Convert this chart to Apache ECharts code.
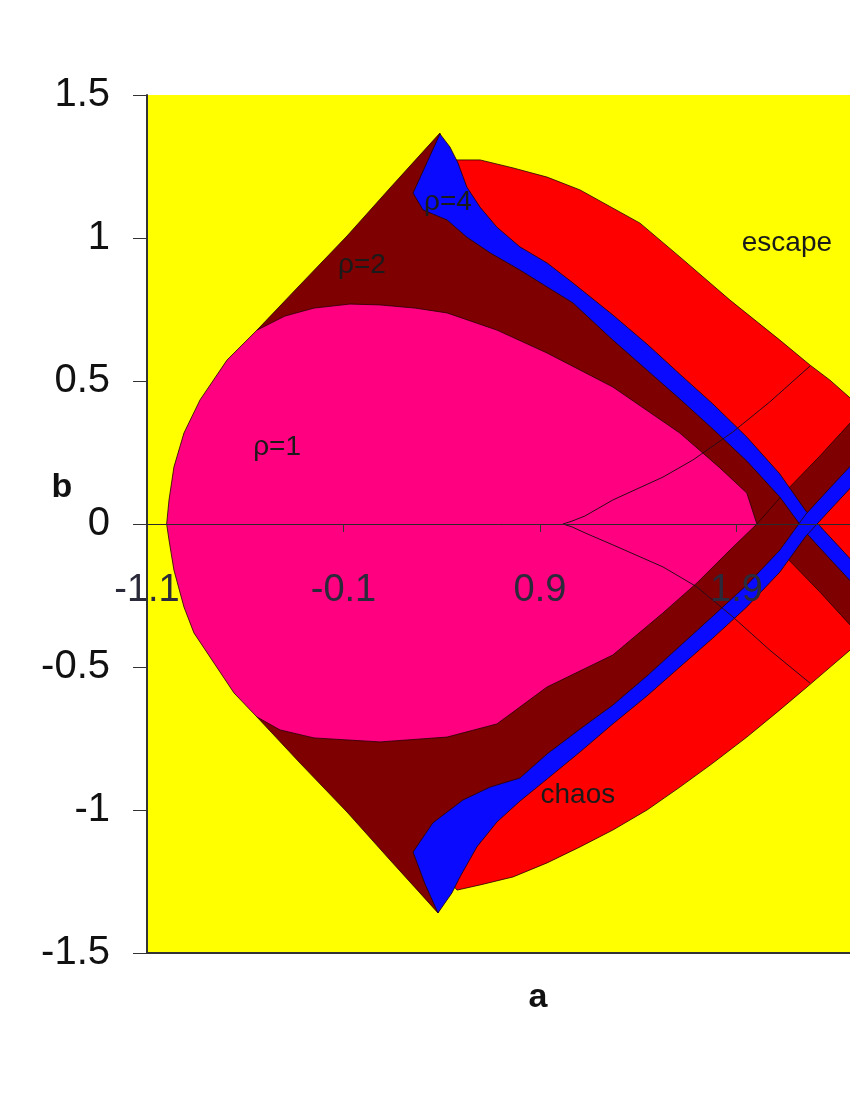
<!DOCTYPE html>
<html><head><meta charset="utf-8">
<script src="https://cdn.jsdelivr.net/npm/echarts@6/dist/echarts.min.js"></script>
<style>html,body{margin:0;padding:0;background:#fff}#c{width:850px;height:1100px}</style>
</head><body><div id="c"></div>
<script>
// Axis ticks and extents
const xTicks = [-1.1, -0.1, 0.9, 1.9];
const yTicks = [-1.5, -1, -0.5, 0, 0.5, 1, 1.5];
const X_MIN = -1.1, X_MAX = 2.478, Y_MIN = -1.5, Y_MAX = 1.5;

// Regions in (a, b) parameter space
const chaosRegion = [
  [0.467,1.273],[0.595,1.273],[0.763,1.245],[0.936,1.213],[1.104,1.168],[1.409,1.052],[1.612,0.934],
  [1.867,0.783],[2.121,0.643],[2.274,0.556],[2.376,0.503],[2.478,0.441],[2.579,0.364],
  [2.579,-0.371],[2.478,-0.441],[2.361,-0.510],[2.259,-0.570],[2.121,-0.650],[1.953,-0.745],
  [1.780,-0.836],[1.612,-0.920],[1.445,-1.000],[1.271,-1.070],[1.104,-1.129],[0.936,-1.185],
  [0.763,-1.234],[0.595,-1.262],[0.478,-1.280],[0.391,-1.210],[0.696,-0.615],[1.307,0],
  [0.696,0.615],[0.391,1.217]
];
const period2Upper = [
  [-0.321,0],[-0.540,0.678],[-0.321,0.836],[-0.082,1.007],[0.137,1.175],[0.289,1.290],[0.391,1.367],
  [0.432,1.255],[0.544,1.080],[0.681,0.986],[0.936,0.864],[1.271,0.692],[1.612,0.483],[1.953,0.262],
  [2.121,0.133],[2.254,0.007],[2.376,-0.084],[2.579,-0.238],[2.579,-0.423],[2.478,-0.353],
  [2.325,-0.238],[2.157,-0.119],[2.004,0],[1.714,0]
];
const period2Lower = [
  [-0.321,0],[-0.540,-0.675],[-0.321,-0.836],[-0.082,-1.007],[0.137,-1.175],[0.289,-1.290],[0.381,-1.360],
  [0.427,-1.262],[0.518,-1.122],[0.681,-0.983],[0.936,-0.846],[1.271,-0.664],[1.612,-0.465],[1.953,-0.255],
  [2.121,-0.133],[2.254,-0.007],[2.376,0.084],[2.579,0.234],[2.579,0.434],[2.478,0.353],
  [2.325,0.238],[2.157,0.119],[2.004,0],[1.714,0]
];
const period4Upper = [
  [0.391,1.364],[0.442,1.318],[0.483,1.262],[0.528,1.178],[0.595,1.108],[0.681,1.038],[0.798,0.969],
  [0.936,0.913],[1.068,0.843],[1.271,0.731],[1.445,0.629],[1.612,0.524],[1.780,0.420],[1.953,0.304],
  [2.121,0.175],[2.254,0.045],[2.376,-0.045],[2.579,-0.196],
  [2.579,-0.273],[2.376,-0.122],[2.254,-0.031],[2.121,0.094],[1.953,0.220],[1.780,0.332],[1.612,0.437],
  [1.445,0.538],[1.271,0.643],[1.068,0.773],[0.936,0.829],[0.798,0.888],[0.646,0.948],[0.528,1.003],
  [0.427,1.063],[0.305,1.098],[0.254,1.157]
];
const period4Lower = [
  [0.381,-1.360],[0.452,-1.290],[0.493,-1.234],[0.579,-1.129],[0.681,-1.042],[0.798,-0.969],[0.936,-0.892],
  [1.104,-0.797],[1.271,-0.699],[1.445,-0.601],[1.612,-0.500],[1.780,-0.399],[1.953,-0.290],[2.121,-0.168],
  [2.254,-0.042],[2.376,0.049],[2.579,0.199],
  [2.579,0.276],[2.376,0.126],[2.254,0.035],[2.121,-0.091],[1.953,-0.213],[1.780,-0.322],[1.612,-0.427],
  [1.445,-0.531],[1.271,-0.633],[1.104,-0.717],[0.936,-0.804],[0.798,-0.888],[0.646,-0.920],[0.508,-0.965],
  [0.355,-1.045],[0.254,-1.147],[0.315,-1.259]
];
const period1Region = [
  [-1.00,0],[-0.988,0.084],[-0.963,0.199],[-0.912,0.318],[-0.830,0.434],[-0.693,0.573],[-0.540,0.678],
  [-0.398,0.727],[-0.250,0.755],[-0.067,0.769],[0.086,0.766],[0.264,0.755],[0.427,0.738],[0.681,0.678],
  [0.936,0.598],[1.271,0.479],[1.612,0.318],[1.816,0.196],[1.953,0.108],[2.004,0],
  [1.867,-0.091],[1.699,-0.206],[1.526,-0.311],[1.271,-0.458],[0.936,-0.570],[0.681,-0.699],
  [0.427,-0.745],[0.086,-0.762],[-0.250,-0.748],[-0.423,-0.720],[-0.540,-0.675],[-0.657,-0.591],
  [-0.759,-0.486],[-0.861,-0.381],[-0.912,-0.290],[-0.963,-0.161],[-0.988,-0.056]
];
const curveUpper = [[1.017,0],[1.063,0.010],[1.129,0.028],[1.271,0.084],[1.526,0.164],[1.679,0.224],[1.882,0.322],[2.070,0.427],[2.274,0.552]];
const curveLower = [[1.017,0],[1.063,-0.010],[1.129,-0.031],[1.271,-0.073],[1.526,-0.150],[1.699,-0.220],[1.882,-0.325],[2.070,-0.441],[2.274,-0.556]];

const labelTexts = ['ρ=1','ρ=2','ρ=4','escape','chaos'];
const labelA = [-0.438, -0.006, 0.432, 2.157, 1.093];
const labelB = [0.269, 0.906, 1.126, 0.983, -0.948];

const FONT = '"Liberation Sans", Arial, sans-serif';
const EDGE = 'rgba(35,0,0,0.8)';

function polySeries(points, fill, z) {
  return {
    type: 'custom', coordinateSystem: 'cartesian2d', z: z, silent: true, clip: true, data: [[0, 0]],
    renderItem: function (params, api) {
      return { type: 'polygon', shape: { points: points.map(function (p) { return api.coord(p); }) },
        style: { fill: fill, stroke: EDGE, lineWidth: 1 } };
    }
  };
}
function lineSeries(points, z, color, width, clip) {
  return {
    type: 'custom', coordinateSystem: 'cartesian2d', z: z, silent: true, clip: clip, data: [[0, 0]],
    renderItem: function (params, api) {
      return { type: 'polyline', shape: { points: points.map(function (p) { return api.coord(p); }) },
        style: { fill: null, stroke: color, lineWidth: width } };
    }
  };
}

const GRID_TOP = 95, GRID_H = 858;
const chart = echarts.init(document.getElementById('c'), null, { renderer: 'canvas' });
chart.setOption({
  animation: false,
  backgroundColor: '#ffffff',
  grid: { left: 147, top: GRID_TOP, right: 0, height: GRID_H, show: true, backgroundColor: '#ffff00', borderWidth: 0 },
  xAxis: {
    type: 'value', min: X_MIN, max: X_MAX, z: 10, position: 'bottom',
    // place the a-axis on the b = 0 line (line, ticks and labels together)
    offset: -GRID_H * (0 - Y_MIN) / (Y_MAX - Y_MIN),
    axisLine: { show: true, onZero: false, lineStyle: { color: '#2a2a2a', width: 1 } },
    axisTick: { show: true, length: 8, customValues: xTicks, lineStyle: { color: '#333' } },
    axisLabel: { show: true, customValues: xTicks, margin: 48, fontSize: 38, fontFamily: FONT, color: '#2a2a3a',
      formatter: function (v) { return String(Math.round(v * 10) / 10); } },
    splitLine: { show: false }
  },
  yAxis: {
    type: 'value', min: Y_MIN, max: Y_MAX, z: 10,
    axisLine: { show: true, onZero: false, lineStyle: { color: '#333', width: 2 } },
    axisTick: { show: true, length: 14, customValues: yTicks, lineStyle: { color: '#333', width: 1 } },
    axisLabel: { show: true, customValues: yTicks, margin: 37, fontSize: 40, fontFamily: FONT, color: '#111' },
    splitLine: { show: false }
  },
  graphic: [
    { type: 'text', x: 62, y: 488, z: 100, style: { text: 'b', font: 'bold 34px ' + FONT, fill: '#111', align: 'center', verticalAlign: 'middle' } },
    { type: 'text', x: 538, y: 998, z: 100, style: { text: 'a', font: 'bold 34px ' + FONT, fill: '#111', align: 'center', verticalAlign: 'middle' } }
  ],
  series: [
    polySeries(chaosRegion, '#ff0000', 2),
    polySeries(period2Upper, '#7e0000', 3),
    polySeries(period2Lower, '#7e0000', 3),
    polySeries(period4Upper, '#0a0aff', 4),
    polySeries(period4Lower, '#0a0aff', 4),
    polySeries(period1Region, '#ff0080', 5),
    lineSeries(curveUpper, 6, '#2a0a1a', 1, true),
    lineSeries(curveLower, 6, '#2a0a1a', 1, true),
    lineSeries([[X_MIN, Y_MIN], [X_MAX, Y_MIN]], 9, '#333', 2, false),
    {
      type: 'custom', coordinateSystem: 'cartesian2d', z: 12, silent: true, clip: false,
      data: labelA.map(function (a, i) { return [a, labelB[i]]; }),
      renderItem: function (params, api) {
        const pt = api.coord([api.value(0), api.value(1)]);
        return { type: 'text', x: pt[0], y: pt[1],
          style: { text: labelTexts[params.dataIndex], font: '28px ' + FONT, fill: '#1a1a1a', align: 'center', verticalAlign: 'middle' } };
      }
    }
  ]
});
</script></body></html>
